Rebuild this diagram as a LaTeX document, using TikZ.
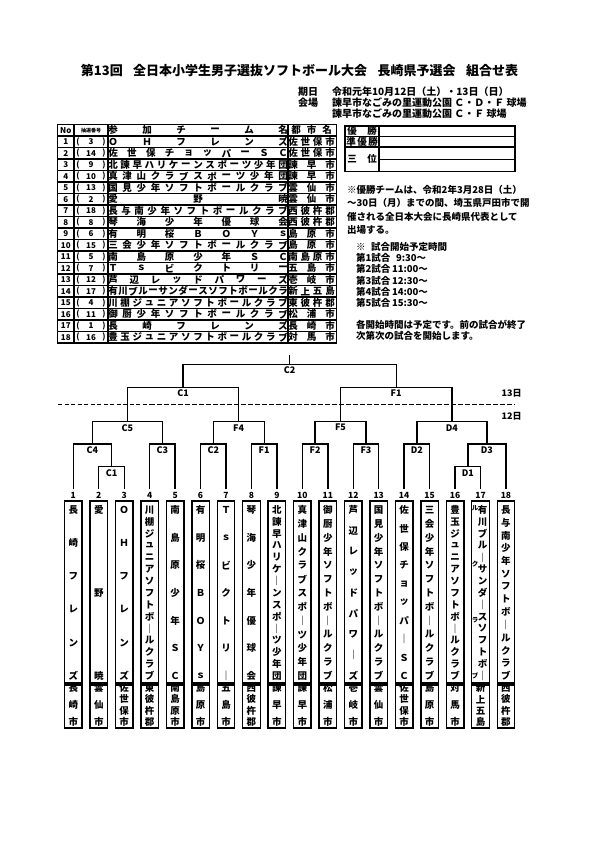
\documentclass[tikz,border=0pt]{standalone}
\usepackage{fontspec}
\setmainfont{Noto Sans CJK JP}[BoldFont={Noto Sans CJK JP Black}]
\newcommand\hspread[5]{%
  \foreach \ch [count=\k] in {#5} {\xdef\spreadN{\k}}%
  \foreach \ch [count=\k] in {#5} {%
    \node[txt] (#1-\k) at ({#2+(#3-#2)*(\k-1)/(\spreadN-1)},#4) {\ch};}%
}
\newcommand\vspread[6][vtx]{%
  \foreach \ch [count=\k] in {#6} {\xdef\spreadN{\k}}%
  \foreach \ch [count=\k] in {#6} {%
    \node[#1] (#2-\k) at (#3,{#4+(#5-#4)*(\k-1)/(\spreadN-1)}) {\ch};}%
}
\newcommand\trow[5]{%
  \pgfmathsetmacro\ry{130.25+11.5*#1}%
  \node[txs] (no#1) at (65.75,\ry) {#2};
  \node[txs] (lp#1) at (78,\ry) {(};
  \node[txs] (dn#1) at (91,\ry) {#3};
  \node[txs] (rp#1) at (104,\ry) {)};
  \hspread{r#1}{113}{283}{\ry}{#4}
  \hspread{rc#1}{293}{330}{\ry}{#5}
}
\newcommand\tcol[3]{%
  \pgfmathsetmacro\cx{73.3+25.45*(#1-1)}%
  \vspread{v#1}{\cx}{510}{676}{#2}
  \vspread{w#1}{\cx}{688}{722}{#3}
}
\begin{document}
\begin{tikzpicture}[x=1pt,y=-1pt,
  every node/.style={inner sep=0pt,outer sep=0pt},
  txt/.style={font=\fontsize{9.5}{10}\selectfont\bfseries},
  txs/.style={font=\fontsize{8}{8}\selectfont\bfseries},
  hd/.style={font=\fontsize{10}{10}\selectfont\bfseries,anchor=west},
  note/.style={font=\fontsize{9.5}{10}\selectfont\bfseries,anchor=west},
  vtx/.style={font=\fontsize{9.5}{9.5}\selectfont\bfseries},
  vsm/.style={font=\fontsize{6.5}{7}\selectfont\bfseries},
  num/.style={font=\fontsize{8.5}{9}\selectfont\bfseries},
  lbl/.style={font=\fontsize{9}{9}\selectfont\bfseries},
  br/.style={line width=1.4pt},
  tline/.style={line width=1.3pt},
  namebox/.style={draw,line width=1.4pt,minimum width=17.5pt,minimum height=182pt},
  citybox/.style={draw,line width=1.4pt,minimum width=17.5pt,minimum height=43pt},
]
\useasboundingbox (0,0) rectangle (595,842);
\fill[white] (0,0) rectangle (595,842);

% title and header
\node[font=\fontsize{13}{13}\selectfont\bfseries] (title) at (299.5,71)
  {第13回\hspace{0.8em}全日本小学生男子選抜ソフトボール大会\hspace{0.8em}長崎県予選会\hspace{0.8em}組合せ表};
\node[hd] (kijitsu) at (298,92) {期日};
\node[hd] (date) at (332,92) {令和元年10月12日（土）・13日（日）};
\node[hd] (kaijo) at (298,103) {会場};
\node[hd] (venue1) at (332,103) {諫早市なごみの里運動公園 Ｃ・Ｄ・Ｆ 球場};
\node[hd] (venue2) at (332,114) {諫早市なごみの里運動公園 Ｃ・Ｆ 球場};

% team table
\draw[line width=1.6pt] (57.5,124.5) rectangle (336.5,343);
\foreach \k in {1,...,18} \draw[tline] (57.5,{124.5+11.5*\k}) -- (336.5,{124.5+11.5*\k});
\foreach \xx in {74,108,288} \draw[tline] (\xx,124.5) -- (\xx,343);
\node[txs] (hNo) at (65.75,130.25) {No};
\node[font=\fontsize{5}{5}\selectfont\bfseries] (hDraw) at (91,130.25) {抽選番号};
\hspread{hT}{113}{283}{130.25}{参,加,チ,ー,ム,名}
\hspread{hC}{296}{327}{130.25}{都,市,名}
\trow{1}{1}{3}{Ｏ,Ｈ,フ,レ,ン,ズ}{佐,世,保,市}
\trow{2}{2}{14}{佐,世,保,チ,ョ,ッ,パ,ー,Ｓ,Ｃ}{佐,世,保,市}
\trow{3}{3}{9}{北,諫,早,ハ,リ,ケ,ー,ン,ス,ポ,ー,ツ,少,年,団}{諫,早,市}
\trow{4}{4}{10}{真,津,山,ク,ラ,ブ,ス,ポ,ー,ツ,少,年,団}{諫,早,市}
\trow{5}{5}{13}{国,見,少,年,ソ,フ,ト,ボ,ー,ル,ク,ラ,ブ}{雲,仙,市}
\trow{6}{6}{2}{愛,野,暁}{雲,仙,市}
\trow{7}{7}{18}{長,与,南,少,年,ソ,フ,ト,ボ,ー,ル,ク,ラ,ブ}{西,彼,杵,郡}
\trow{8}{8}{8}{琴,海,少,年,優,球,会}{西,彼,杵,郡}
\trow{9}{9}{6}{有,明,桜,Ｂ,Ｏ,Ｙ,ｓ}{島,原,市}
\trow{10}{10}{15}{三,会,少,年,ソ,フ,ト,ボ,ー,ル,ク,ラ,ブ}{島,原,市}
\trow{11}{11}{5}{南,島,原,少,年,Ｓ,Ｃ}{南,島,原,市}
\trow{12}{12}{7}{Ｔ,ｓ,ビ,ク,ト,リ,ー}{五,島,市}
\trow{13}{13}{12}{芦,辺,レ,ッ,ド,パ,ワ,ー,ズ}{壱,岐,市}
\trow{14}{14}{17}{有,川,ブ,ル,ー,サ,ン,ダ,ー,ス,ソ,フ,ト,ボ,ー,ル,ク,ラ}{新,上,五,島}
\trow{15}{15}{4}{川,棚,ジ,ュ,ニ,ア,ソ,フ,ト,ボ,ー,ル,ク,ラ,ブ}{東,彼,杵,郡}
\trow{16}{16}{11}{御,厨,少,年,ソ,フ,ト,ボ,ー,ル,ク,ラ,ブ}{松,浦,市}
\trow{17}{17}{1}{長,崎,フ,レ,ン,ズ}{長,崎,市}
\trow{18}{18}{16}{豊,玉,ジ,ュ,ニ,ア,ソ,フ,ト,ボ,ー,ル,ク,ラ,ブ}{対,馬,市}

% results box
\draw[line width=1.6pt] (345,126) rectangle (515,171.5);
\draw[tline] (379,126) -- (379,171.5);
\draw[tline] (345,136.5) -- (515,136.5);
\draw[tline] (345,147) -- (515,147);
\draw[tline] (379,159.3) -- (515,159.3);
\hspread{rw}{352}{372}{131.3}{優,勝}
\hspread{rs}{351}{373}{141.8}{準,優,勝}
\hspread{rt}{352}{372}{159.3}{三,位}

% notes
\node[note] (nt1) at (347,190) {※優勝チームは、令和2年3月28日（土）};
\node[note] (nt2) at (347,203.3) {～30日（月）までの間、埼玉県戸田市で開};
\node[note] (nt3) at (347,216.7) {催される全日本大会に長崎県代表として};
\node[note] (nt4) at (347,230) {出場する。};
\node[note] (sc0) at (356,247) {※\hspace{0.6em}試合開始予定時間};
\node[note] (sc1) at (356,258) {第1試合};
\node[note] (sc2) at (356,269.3) {第2試合};
\node[note] (sc3) at (356,280.6) {第3試合};
\node[note] (sc4) at (356,292) {第4試合};
\node[note] (sc5) at (356,303.3) {第5試合};
\node[note] (tm1) at (396,258) {9:30～};
\node[note] (tm2) at (392,269.3) {11:00～};
\node[note] (tm3) at (392,280.6) {12:30～};
\node[note] (tm4) at (392,292) {14:00～};
\node[note] (tm5) at (392,303.3) {15:30～};
\node[note] (nb1) at (356,325) {各開始時間は予定です。前の試合が終了};
\node[note] (nb2) at (356,336) {次第次の試合を開始します。};

% team columns
\foreach \i in {1,...,18} {
  \pgfmathsetmacro\tx{73.3+25.45*(\i-1)}
  \coordinate (t\i) at (\tx,489);
  \node[num] (n\i) at (\tx,495) {\i};
  \node[namebox] (b\i) at (\tx,592) {};
  \node[citybox] (c\i) at (\tx,706.5) {};
}
\tcol{1}{長,崎,フ,レ,ン,ズ}{長,崎,市}
\tcol{2}{愛,野,暁}{雲,仙,市}
\tcol{3}{Ｏ,Ｈ,フ,レ,ン,ズ}{佐,世,保,市}
\tcol{4}{川,棚,ジ,ュ,ニ,ア,ソ,フ,ト,ボ,｜,ル,ク,ラ,ブ}{東,彼,杵,郡}
\tcol{5}{南,島,原,少,年,Ｓ,Ｃ}{南,島,原,市}
\tcol{6}{有,明,桜,Ｂ,Ｏ,Ｙ,ｓ}{島,原,市}
\tcol{7}{Ｔ,ｓ,ビ,ク,ト,リ,｜}{五,島,市}
\tcol{8}{琴,海,少,年,優,球,会}{西,彼,杵,郡}
\tcol{9}{北,諫,早,ハ,リ,ケ,｜,ン,ス,ポ,｜,ツ,少,年,団}{諫,早,市}
\tcol{10}{真,津,山,ク,ラ,ブ,ス,ポ,｜,ツ,少,年,団}{諫,早,市}
\tcol{11}{御,厨,少,年,ソ,フ,ト,ボ,｜,ル,ク,ラ,ブ}{松,浦,市}
\tcol{12}{芦,辺,レ,ッ,ド,パ,ワ,｜,ズ}{壱,岐,市}
\tcol{13}{国,見,少,年,ソ,フ,ト,ボ,｜,ル,ク,ラ,ブ}{雲,仙,市}
\tcol{14}{佐,世,保,チ,ョ,ッ,パ,｜,Ｓ,Ｃ}{佐,世,保,市}
\tcol{15}{三,会,少,年,ソ,フ,ト,ボ,｜,ル,ク,ラ,ブ}{島,原,市}
\tcol{16}{豊,玉,ジ,ュ,ニ,ア,ソ,フ,ト,ボ,｜,ル,ク,ラ,ブ}{対,馬,市}
\pgfmathsetmacro\cx{73.3+25.45*16}
\vspread[vtx]{v17}{\cx+2}{510}{676}{有,川,ブ,ル,｜,サ,ン,ダ,｜,ス,ソ,フ,ト,ボ,｜}
\vspread[vsm]{u17}{\cx-5.5}{508}{676}{ル,ク,ラ,ブ}
\vspread{w17}{\cx}{688}{722}{新,上,五,島}
\tcol{18}{長,与,南,少,年,ソ,フ,ト,ボ,｜,ル,ク,ラ,ブ}{西,彼,杵,郡}

% match points
\coordinate (mC1b) at (111.5,466.7);
\coordinate (mC4b) at (92.4,444);
\coordinate (mC3b) at (162.4,444);
\coordinate (mC2b) at (213.3,444);
\coordinate (mF1b) at (264.2,444);
\coordinate (mF2) at (315.1,444);
\coordinate (mF3) at (366.0,444);
\coordinate (mD2) at (416.9,444);
\coordinate (mD1) at (467.8,466.7);
\coordinate (mD3) at (486.9,444);
\coordinate (mC5) at (127.4,421.7);
\coordinate (mF4) at (238.7,421.7);
\coordinate (mF5) at (340.5,421.7);
\coordinate (mD4) at (451.9,421.7);
\coordinate (mC1t) at (183.1,387.3);
\coordinate (mF1t) at (396.2,387.3);
\coordinate (mC2t) at (289.6,364.3);
\coordinate (topend) at (289.6,355);

% bracket
\draw[br] (t2) |- (mC1b) -| (t3);
\draw[br] (t1) |- (mC4b) -| (mC1b);
\draw[br] (t4) |- (mC3b) -| (t5);
\draw[br] (t6) |- (mC2b) -| (t7);
\draw[br] (t8) |- (mF1b) -| (t9);
\draw[br] (t10) |- (mF2) -| (t11);
\draw[br] (t12) |- (mF3) -| (t13);
\draw[br] (t14) |- (mD2) -| (t15);
\draw[br] (t16) |- (mD1) -| (t17);
\draw[br] (mD1) |- (mD3) -| (t18);
\draw[br] (mC4b) |- (mC5) -| (mC3b);
\draw[br] (mC2b) |- (mF4) -| (mF1b);
\draw[br] (mF2) |- (mF5) -| (mF3);
\draw[br] (mD2) |- (mD4) -| (mD3);
\draw[br] (mC5) |- (mC1t) -| (mF4);
\draw[br] (mF5) |- (mF1t) -| (mD4);
\draw[br] (mC1t) |- (mC2t) -| (mF1t);
\draw[br] (mC2t) -- (topend);

\foreach \m/\lab in {C1b/C1,C4b/C4,C3b/C3,C2b/C2,F1b/F1,F2/F2,F3/F3,D2/D2,D1/D1,D3/D3,C5/C5,F4/F4,F5/F5,D4/D4,C1t/C1,F1t/F1,C2t/C2}
  \node[lbl] (L\m) at ([yshift=-6pt]m\m) {\lab};

% day divider
\coordinate (dl1) at (58,404.3);
\coordinate (dl2) at (150,404.3);
\coordinate (dl3) at (515,404.3);
\draw[line width=0.8pt,dash pattern=on 4pt off 2.5pt] (dl1) -- (dl2);
\draw[line width=1.6pt,dash pattern=on 4.5pt off 2.5pt] (dl2) -- (dl3);
\node[lbl] (d13) at (511.7,393) {13日};
\node[lbl] (d12) at (511.7,416) {12日};
\end{tikzpicture}
\end{document}
